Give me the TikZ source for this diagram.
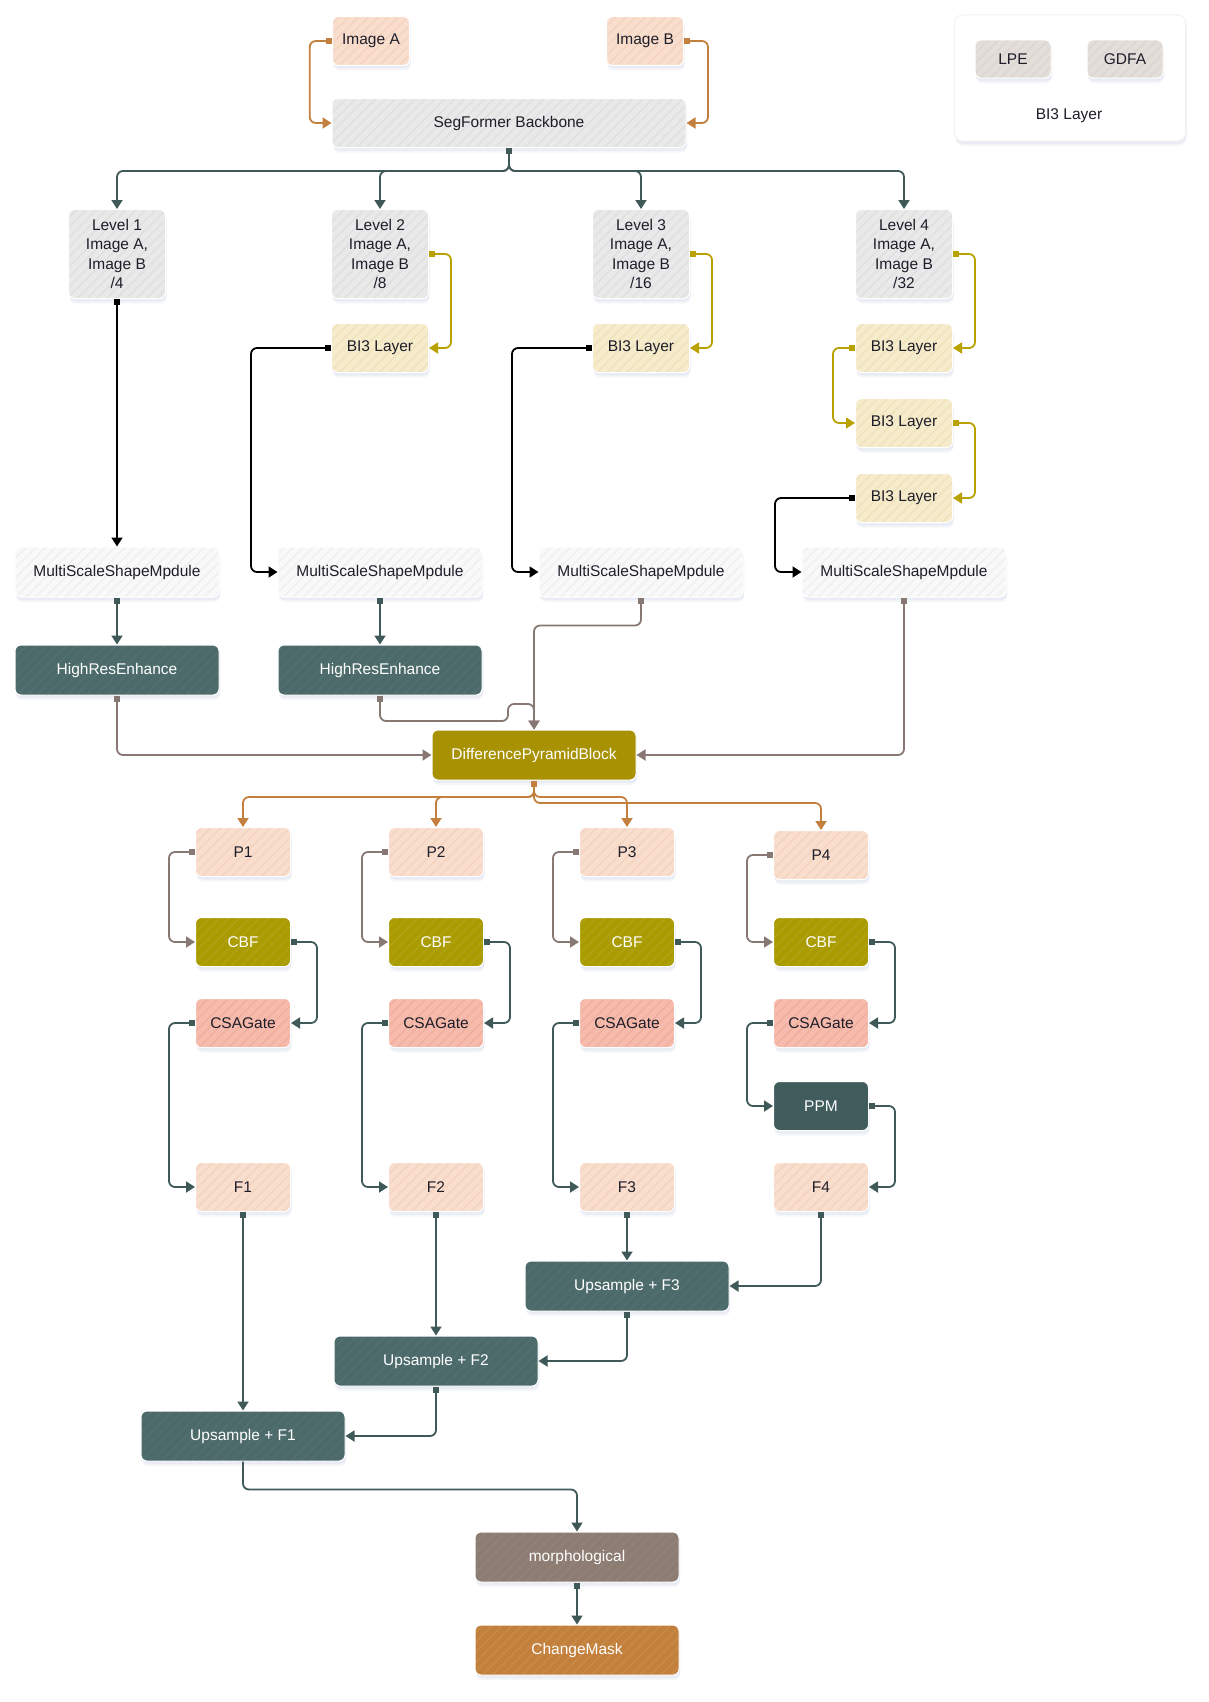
\documentclass[tikz,border=0pt]{standalone}
\usepackage{fontspec}
\setmainfont{Liberation Sans}
\usetikzlibrary{arrows.meta,patterns.meta,shadows}

\definecolor{peach}{HTML}{F9DECD}
\definecolor{peachline}{HTML}{F4D3C0}
\definecolor{greybox}{HTML}{E9E9E9}
\definecolor{greyline}{HTML}{E0E0E0}
\definecolor{bithree}{HTML}{F6EBCB}
\definecolor{bithreeline}{HTML}{F0E2BC}
\definecolor{msbox}{HTML}{F9F9F9}
\definecolor{msline}{HTML}{F0F0F0}
\definecolor{tealbox}{HTML}{4C6A6A}
\definecolor{tealline}{HTML}{537070}
\definecolor{ppmbox}{HTML}{405C5C}
\definecolor{dpbbox}{HTML}{A89204}
\definecolor{cbfbox}{HTML}{A99B00}
\definecolor{cbfline}{HTML}{B0A212}
\definecolor{csabox}{HTML}{F6BBAC}
\definecolor{csaline}{HTML}{F1AF9E}
\definecolor{morphbox}{HTML}{8C7C72}
\definecolor{morphline}{HTML}{928278}
\definecolor{maskbox}{HTML}{C2803C}
\definecolor{maskline}{HTML}{C98A48}
\definecolor{legbox}{HTML}{E4DEDA}
\definecolor{legline}{HTML}{DCD5D0}
\definecolor{lineorange}{HTML}{C27F3D}
\definecolor{lineslate}{HTML}{3F5959}
\definecolor{lineolive}{HTML}{B9A100}
\definecolor{linetaupe}{HTML}{877873}
\definecolor{textdark}{HTML}{1E1E2A}
\definecolor{shadowc}{HTML}{A8B4D4}

\begin{document}
\begin{tikzpicture}[x=1pt, y=-1pt,
    box/.style={rounded corners=6pt, draw=white, line width=1pt, align=center,
        minimum width=95pt, minimum height=49pt, inner sep=1pt, text=textdark,
        font=\fontsize{15.5}{19.5}\selectfont,
        drop shadow={shadow xshift=1pt, shadow yshift=-5pt, opacity=.12, fill=shadowc},
        drop shadow={shadow xshift=1pt, shadow yshift=-3pt, opacity=.15, fill=shadowc}},
    hatch/.style 2 args={preaction={fill=#1}, pattern={Lines[angle=45, distance=7pt, line width=1.5pt]}, pattern color=#2},
    wide/.style={minimum width=204pt, minimum height=50pt},
    link/.style={line width=1.8pt, rounded corners=6pt,
        arrows={Square[length=6pt,width=6pt]-Triangle[length=9pt,width=11pt]}},
    orangeln/.style={link, draw=lineorange},
    slateln/.style={link, draw=lineslate},
    oliveln/.style={link, draw=lineolive},
    taupeln/.style={link, draw=linetaupe},
    blackln/.style={link, draw=black}
]
\useasboundingbox (0,0) rectangle (1209,1702);

% inputs and backbone
\node[box, hatch={peach}{peachline}, minimum width=77pt] (imgA) at (371,41) {Image A};
\node[box, hatch={peach}{peachline}, minimum width=77pt] (imgB) at (645,41) {Image B};
\node[box, hatch={greybox}{greyline}, minimum width=354pt] (seg) at (509,123) {SegFormer Backbone};

% legend
\node[box, fill=white, draw=gray!10, rounded corners=8pt, minimum width=231pt, minimum height=126pt] (legend) at (1070,78) {};
\node[box, hatch={legbox}{legline}, minimum width=76pt, minimum height=38pt] (lpe) at (1013,59) {LPE};
\node[box, hatch={legbox}{legline}, minimum width=76pt, minimum height=38pt] (gdfa) at (1125,59) {GDFA};
\node[text=textdark, font=\fontsize{15.5}{19.5}\selectfont] (legtitle) at (1069,116) {BI3 Layer};

% encoder levels
\foreach \i/\x/\d in {1/117/4, 2/380/8, 3/641/16, 4/904/32} {
    \node[box, hatch={greybox}{greyline}, minimum width=97pt, minimum height=89pt] (lv\i) at (\x,254) {Level \i\\Image A,\\Image B\\/\d};
    \node[box, wide, hatch={msbox}{msline}] (ms\i) at (\x,572) {MultiScaleShapeMpdule};
}
\node[box, hatch={bithree}{bithreeline}, minimum width=97pt] (bi2) at (380,348) {BI3 Layer};
\node[box, hatch={bithree}{bithreeline}, minimum width=97pt] (bi3) at (641,348) {BI3 Layer};
\node[box, hatch={bithree}{bithreeline}, minimum width=97pt] (bia) at (904,348) {BI3 Layer};
\node[box, hatch={bithree}{bithreeline}, minimum width=97pt] (bib) at (904,423) {BI3 Layer};
\node[box, hatch={bithree}{bithreeline}, minimum width=97pt] (bic) at (904,498) {BI3 Layer};

\node[box, wide, hatch={tealbox}{tealline}, text=white] (hr1) at (117,670) {HighResEnhance};
\node[box, wide, hatch={tealbox}{tealline}, text=white] (hr2) at (380,670) {HighResEnhance};
\node[box, wide, fill=dpbbox, text=white] (dpb) at (534,755) {DifferencePyramidBlock};

% pyramid columns
\foreach \i/\x/\py in {1/243/852, 2/436/852, 3/627/852, 4/821/855} {
    \node[box, hatch={peach}{peachline}] (p\i) at (\x,\py) {P\i};
    \node[box, hatch={cbfbox}{cbfline}, text=white] (cbf\i) at (\x,942) {CBF};
    \node[box, hatch={csabox}{csaline}] (csa\i) at (\x,1023) {CSAGate};
    \node[box, hatch={peach}{peachline}] (f\i) at (\x,1187) {F\i};
}
\node[box, fill=ppmbox, text=white] (ppm) at (821,1106) {PPM};

% decoder
\node[box, wide, hatch={tealbox}{tealline}, text=white] (up3) at (627,1286) {Upsample + F3};
\node[box, wide, hatch={tealbox}{tealline}, text=white] (up2) at (436,1361) {Upsample + F2};
\node[box, wide, hatch={tealbox}{tealline}, text=white] (up1) at (243,1436) {Upsample + F1};
\node[box, wide, hatch={morphbox}{morphline}, text=white] (morph) at (577,1557) {morphological};
\node[box, wide, hatch={maskbox}{maskline}, text=white] (mask) at (577,1650) {ChangeMask};

% connectors
\draw[orangeln] (imgA.west) -- ++(-22,0) |- (seg.west);
\draw[orangeln] (imgB.east) -- ++(24,0) |- (seg.east);
\foreach \i in {1,...,4}
    \draw[slateln] (seg.south) -- ++(0,23) -| (lv\i.north);

\draw[blackln] (lv1.south) -- (ms1.north);
\draw[oliveln] (lv2.east) -- ++(22,0) |- (bi2.east);
\draw[blackln] (bi2.west) -- ++(-80,0) |- (ms2.west);
\draw[oliveln] (lv3.east) -- ++(22,0) |- (bi3.east);
\draw[blackln] (bi3.west) -- ++(-80,0) |- (ms3.west);
\draw[oliveln] (lv4.east) -- ++(22,0) |- (bia.east);
\draw[oliveln] (bia.west) -- ++(-22,0) |- (bib.west);
\draw[oliveln] (bib.east) -- ++(22,0) |- (bic.east);
\draw[blackln] (bic.west) -- ++(-80,0) |- (ms4.west);

\draw[slateln] (ms1.south) -- (hr1.north);
\draw[slateln] (ms2.south) -- (hr2.north);
\draw[taupeln] (hr1.south) |- (dpb.west);
\draw[taupeln] (hr2.south) |- (508,721) -- (508,704) -| (dpb.north);
\draw[taupeln] (ms3.south) -- ++(0,28) -| (dpb.north);
\draw[taupeln] (ms4.south) |- (dpb.east);

\foreach \i/\y in {1/797, 2/797, 3/797, 4/803}
    \draw[orangeln] (dpb.south) |- (p\i.north |- 0,\y) -- (p\i.north);

\foreach \i in {1,...,4} {
    \draw[taupeln] (p\i.west) -- ++(-26,0) |- (cbf\i.west);
    \draw[slateln] (cbf\i.east) -- ++(26,0) |- (csa\i.east);
}
\foreach \i in {1,2,3}
    \draw[slateln] (csa\i.west) -- ++(-26,0) |- (f\i.west);
\draw[slateln] (csa4.west) -- ++(-26,0) |- (ppm.west);
\draw[slateln] (ppm.east) -- ++(26,0) |- (f4.east);

\draw[slateln] (f1.south) -- (up1.north);
\draw[slateln] (f2.south) -- (up2.north);
\draw[slateln] (f3.south) -- (up3.north);
\draw[slateln] (f4.south) |- (up3.east);
\draw[slateln] (up3.south) |- (up2.east);
\draw[slateln] (up2.south) |- (up1.east);
\draw[slateln, arrows=-{Triangle[length=9pt,width=11pt]}] (up1.south) -- ++(0,28) -| (morph.north);
\draw[slateln] (morph.south) -- (mask.north);

\end{tikzpicture}
\end{document}
